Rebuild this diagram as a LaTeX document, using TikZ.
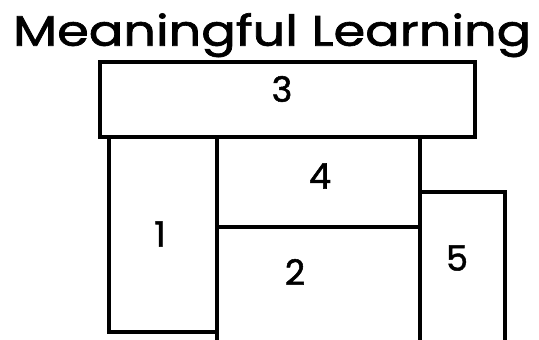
\documentclass[tikz,border=0pt]{standalone}
\usepackage{fontspec}
\setmainfont{Poppins}
\newfontfamily\heavyfont[FakeBold=1.5]{Poppins}
\begin{document}
\begin{tikzpicture}[x=1pt,y=-1pt,
  wall/.style={line width=4pt,line join=miter},
  num/.style={font=\heavyfont\fontsize{35}{38}\selectfont,inner sep=0pt}]
\useasboundingbox (0,0) rectangle (539,340);
\node[inner sep=0pt,anchor=north west] (title) at (13,13) {\resizebox*{518pt}{44pt}{\heavyfont\fontsize{46}{50}\selectfont Meaningful Learning}};
% boxes
\draw[wall] (100,62) rectangle (475,137);
\draw[wall] (109,137) rectangle (217,332);
\draw[wall] (217,137) rectangle (420,227);
\draw[wall] (217,227) -- (217,345);
\draw[wall] (420,227) -- (420,345);
\draw[wall] (420,192) -- (505,192) -- (505,345);
% labels
\node[num] (n3) at (282,89) {3};
\node[num] (n4) at (320,176) {4};
\node[num] (n1) at (160,234) {1};
\node[num] (n2) at (295,272) {2};
\node[num] (n5) at (457,258) {5};
\end{tikzpicture}
\end{document}
